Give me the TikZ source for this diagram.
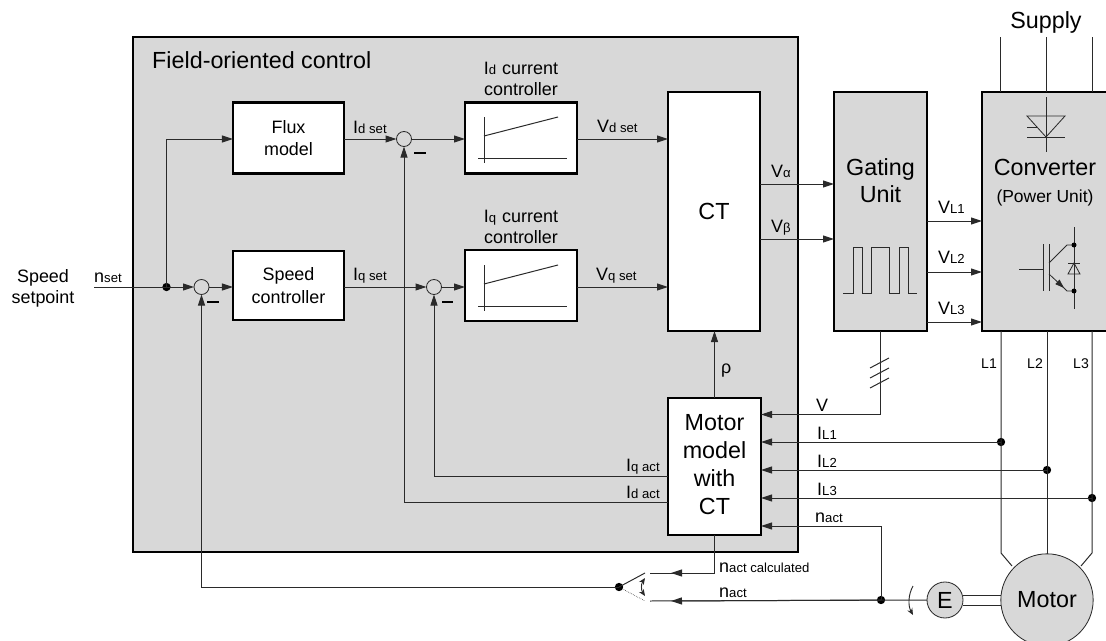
\documentclass[tikz,border=0pt]{standalone}
\usepackage{fontspec}
\setmainfont{Liberation Sans}
\usetikzlibrary{arrows.meta}
\definecolor{panel}{HTML}{D8D8D8}
\definecolor{wire}{HTML}{2A2A2A}
\newcommand{\bigfont}{\fontsize{19.9}{23.8}\selectfont}
\newcommand{\midfont}{\fontsize{15.3}{19.3}\selectfont}
\newcommand{\lowfont}{\fontsize{11.2}{13}\selectfont}
\tikzset{
  >={Triangle[length=3.3mm,width=2.1mm]},
  wireline/.style={draw=wire,line width=0.85pt},
  box/.style={draw=black,line width=2.1pt,rectangle,inner sep=0pt,outer sep=0pt},
  whitebox/.style={box,fill=white},
  greybox/.style={box,fill=panel},
  sum/.style={draw=wire,line width=0.7pt,circle,inner sep=0pt,outer sep=0pt,minimum size=0.45cm},
  dot/.style={circle,fill=black,inner sep=0pt,outer sep=0pt,minimum size=0.25cm},
  big/.style={inner sep=0pt,font=\bigfont,align=center},
  mid/.style={inner sep=0pt,font=\midfont,align=center},
  lab/.style={inner sep=0pt,anchor=base west,font=\midfont},
  minus/.style={line width=2pt,black}
}
\begin{document}
\begin{tikzpicture}[x=0.03cm,y=-0.03cm]
  \useasboundingbox (0,0) rectangle (1106,641);
  \clip (0,0) rectangle (1106,641); % motor and converter run over the edge

  % Panels and blocks
  \node[greybox,minimum width=19.95cm,minimum height=15.45cm] (foc) at (465.5,294.5) {};
  \node[whitebox,mid,minimum width=3.33cm,minimum height=2.13cm] (flux) at (288.5,138) {Flux\\model};
  \node[whitebox,mid,minimum width=3.33cm,minimum height=2.07cm] (speed) at (288.5,285.5) {Speed\\controller};
  \node[whitebox,minimum width=3.36cm,minimum height=2.13cm] (idctrl) at (521,138) {};
  \node[whitebox,minimum width=3.36cm,minimum height=2.13cm] (iqctrl) at (521,285.5) {};
  \node[whitebox,font=\bigfont,minimum width=2.76cm,minimum height=7.17cm] (ct) at (714,211.5) {CT};
  \node[whitebox,minimum width=2.79cm,minimum height=4.11cm] (motormodel) at (714.5,466.5) {};
  \node[greybox,minimum width=2.79cm,minimum height=7.17cm] (gating) at (880.5,211.5) {};
  \node[greybox,minimum width=4.2cm,minimum height=7.17cm] (conv) at (1052,211.5) {};
  \node[draw=wire,line width=0.7pt,fill=panel,circle,inner sep=0pt,outer sep=0pt,minimum size=2.77cm,font=\bigfont] (motor) at (1047,600) {Motor};
  \node[draw=wire,line width=0.7pt,fill=panel,circle,inner sep=0pt,outer sep=0pt,minimum size=1.08cm,font=\bigfont] (enc) at (945,600) {E};

  % Summing points and branch dots
  \node[sum] (sumn) at (201.5,287) {};
  \node[sum] (sumd) at (404,139) {};
  \node[sum] (sumq) at (434,287) {};
  \node[dot] (dotn) at (166.5,287) {};
  \node[dot] (dotone) at (1001,442) {};
  \node[dot] (dottwo) at (1047,470) {};
  \node[dot] (dotthree) at (1092,498) {};
  \node[dot] (dotact) at (881,600) {};
  \node[dot] (dotswitch) at (619,587) {};

  % Free ends
  \coordinate (NIn) at (94,287);
  \coordinate (GateTop) at (645,573);
  \coordinate (GateLow) at (645,601);
  \coordinate (EndCalc) at (650,573);
  \coordinate (EndAct) at (650,601);
  \coordinate (RhoTop) at (714.5,331);
  \coordinate (FluxIn) at (166.5,139);

  % Forward path
  \draw[wireline,->] (NIn) -- (sumn.west);
  \draw[wireline,->] (dotn.center) -- (FluxIn) -- (flux.west |- FluxIn);
  \draw[wireline,->] (sumn.east) -- (speed.west |- sumn);
  \draw[wireline,->] (flux.east |- sumd) -- (sumd.west);
  \draw[wireline,->] (speed.east |- sumq) -- (sumq.west);
  \draw[wireline,->] (sumd.east) -- (idctrl.west |- sumd);
  \draw[wireline,->] (sumq.east) -- (iqctrl.west |- sumq);
  \draw[wireline,->] (idctrl.east |- sumd) -- (ct.west |- sumd);
  \draw[wireline,->] (iqctrl.east |- sumq) -- (ct.west |- sumq);
  \draw[wireline,->] (ct.east |- 0,184) -- (gating.west |- 0,184);
  \draw[wireline,->] (ct.east |- 0,239) -- (gating.west |- 0,239);
  \foreach \y in {221,272,322}{% three phases
    \draw[wireline,->] (gating.east |- 0,\y) -- (conv.west |- 0,\y);
  }
  \draw[wireline,->] (motormodel.north) -- (RhoTop);

  % Feedback into the summing points
  \draw[wireline,->] (motormodel.west |- 0,476) -- (434,476) -- (sumq.south);
  \draw[wireline,->] (motormodel.west |- 0,502) -- (404,502) -- (sumd.south);
  \draw[wireline,->] (dotswitch.center) -- (201.5,587) -- (sumn.south);
  \draw[minus] (207,302) -- (219,302);
  \draw[minus] (414,153) -- (426,153);
  \draw[minus] (442,302) -- (453,302);

  % Measurements back into the motor model
  \draw[wireline,->] (gating.south) -- (880.5,414.5) -- (motormodel.east |- 0,414.5);
  \foreach \y in {358,368,378}{% bus slashes
    \draw[wireline] (870,\y+10) -- (889,\y);
  }
  \draw[wireline,->] (dotone.center) -- (motormodel.east |- dotone);
  \draw[wireline,->] (dottwo.center) -- (motormodel.east |- dottwo);
  \draw[wireline,->] (dotthree.center) -- (motormodel.east |- dotthree);
  \draw[wireline,->] (dotact.center) -- (881,526) -- (motormodel.east |- 0,526);

  % Speed selection
  \draw[wireline] (motormodel.south) -- (714.5,573) -- (EndCalc);
  \draw[wireline,->] (714.5,573) -- (671,573);
  \draw[wireline] (enc.west) -- (EndAct);
  \draw[wireline,->] (dotact.center) -- (671,601);
  \draw[wireline] (dotswitch.center) -- (GateTop);
  \draw[draw=wire,line width=0.5pt,densely dotted] (dotswitch.center) -- (GateLow);
  \draw[wireline,line width=0.8pt,{Stealth[length=2mm,width=1.7mm]}-{Stealth[length=2mm,width=1.7mm]}] (645,578) .. controls (641,584) and (641,590) .. (645,596);
  \draw[wireline,line width=0.8pt,-{Stealth[length=2mm,width=1.7mm]}] (913,586) .. controls (908,595) and (908,606) .. (913,615);

  % Supply and motor leads
  \foreach \x in {1000,1046,1092}{% supply side
    \draw[wireline] (\x,37) -- (\x,92);
  }
  \draw[wireline] (1001,331) -- (1001,553) -- (1012,566);
  \draw[wireline] (1047,331) -- (motor.north);
  \draw[wireline] (1092,331) -- (1092,553) -- (1081,566);
  \draw[wireline] (enc.east |- 0,595) -- (motor.west |- 0,595);
  \draw[wireline] (enc.east |- 0,605) -- (motor.west |- 0,605);

  % Controller characteristics
  \foreach \y in {0,148}{% same curve in both blocks
    \draw[wireline] (484,117+\y) -- (484,163+\y);
    \draw[wireline] (478,158+\y) -- (567,158+\y);
    \draw[wireline] (484,136+\y) -- (558,117+\y);
  }

  % Pulse pattern
  \draw[wireline,line width=0.7pt] (843,293) -- (853,293) -- (853,247) -- (862,247) -- (862,293) -- (871,293) -- (871,247) -- (889,247) -- (889,293) -- (899,293) -- (899,247) -- (908,247) -- (908,293) -- (917,293);

  % Thyristor bridge symbol
  \draw[wireline,line width=0.7pt] (1046,97) -- (1046,152);
  \draw[wireline,line width=0.7pt] (1027,116) -- (1065,116) -- (1046,137) -- cycle;
  \draw[wireline,line width=0.7pt] (1027,137) -- (1065,137);
  \draw[wireline,line width=0.7pt] (1027,127) -- (1037,127);

  % IGBT symbol
  \draw[wireline,line width=0.7pt] (1074,227) -- (1074,309);
  \draw[wireline,line width=0.7pt] (1019,269) -- (1043,269);
  \draw[wireline,line width=0.7pt] (1043,244) -- (1043,291);
  \draw[wireline,line width=0.7pt] (1049,244) -- (1049,291);
  \draw[wireline,line width=0.7pt] (1049,263) -- (1067,245) -- (1074,245);
  \draw[wireline,line width=0.7pt,-{Triangle[length=2.7mm,width=1.8mm]}] (1049,274) -- (1064,288);
  \draw[wireline,line width=0.7pt] (1060,284) -- (1067,291) -- (1074,291);
  \draw[wireline,line width=0.7pt] (1068,263) -- (1080,263);
  \draw[wireline,line width=0.7pt] (1074,263) -- (1068,274) -- (1080,274) -- cycle;
  \node[dot,minimum size=0.15cm] (igbtup) at (1074,245) {};
  \node[dot,minimum size=0.15cm] (igbtlow) at (1074,291) {};

  % Big and medium labels
  \node[big,anchor=base west] (foctext) at (152,68) {Field-oriented control};
  \node[big,anchor=base] (supply) at (1046,28) {Supply};
  \node[big,anchor=base] (gatingtext) at (880.5,175) {Gating};
  \node[big,anchor=base] (unittext) at (880.5,202) {Unit};
  \node[big,anchor=base] (convtext) at (1045,175) {Converter};
  \node[mid,anchor=base,font=\fontsize{14.9}{18}\selectfont] (powertext) at (1045,202) {(Power Unit)};
  \node[big,anchor=base] (modelone) at (714.5,430) {Motor};
  \node[big,anchor=base] (modeltwo) at (714.5,458) {model};
  \node[big,anchor=base] (modelthree) at (714.5,486) {with};
  \node[big,anchor=base] (modelfour) at (714.5,514) {CT};
  \node[mid,anchor=base] (setone) at (43,282) {Speed};
  \node[mid,anchor=base] (settwo) at (43,303) {setpoint};
  \node[mid,anchor=base] (idone) at (521,74) {I{\lowfont d}\,\,current};
  \node[mid,anchor=base] (idtwo) at (521,95) {controller};
  \node[mid,anchor=base] (iqone) at (521,222) {I{\lowfont q}\,\,current};
  \node[mid,anchor=base] (iqtwo) at (521,243) {controller};
  \node[lab] (rho) at (721,373) {ρ};

  % Signal labels: name/x/y/letter/index
  \foreach \nm/\x/\y/\main/\sub in {
      nset/94/282/n/set, idset/353/133/I/d set, iqset/353/280/I/q set,
      vdset/597/132/V/d set, vqset/596/280/V/q set,
      valpha/771/177/V/α, vbeta/771/232/V/β,
      vone/938/213/V/L1, vtwo/938/263/V/L2, vthree/938/314/V/L3,
      iqact/626/471/I/q act, idact/626/498/I/d act,
      ione/817/439/I/L1, itwo/817/467/I/L2, ithree/817/495/I/L3,
      nacttop/815/522/n/act, nactlow/719/597/n/act,
      ncalc/719/572/n/act calculated}{%
    \node[lab] (\nm) at (\x,\y) {\main{\lowfont\sub}};
  }
  \node[lab] (vmeas) at (816,411) {V};
  \foreach \nm/\x/\txt in {lone/981/L1,ltwo/1027/L2,lthree/1073/L3}{% line labels
    \node[lab,font=\fontsize{12}{14}\selectfont] (\nm) at (\x,368) {\txt};
  }
\end{tikzpicture}
\end{document}
